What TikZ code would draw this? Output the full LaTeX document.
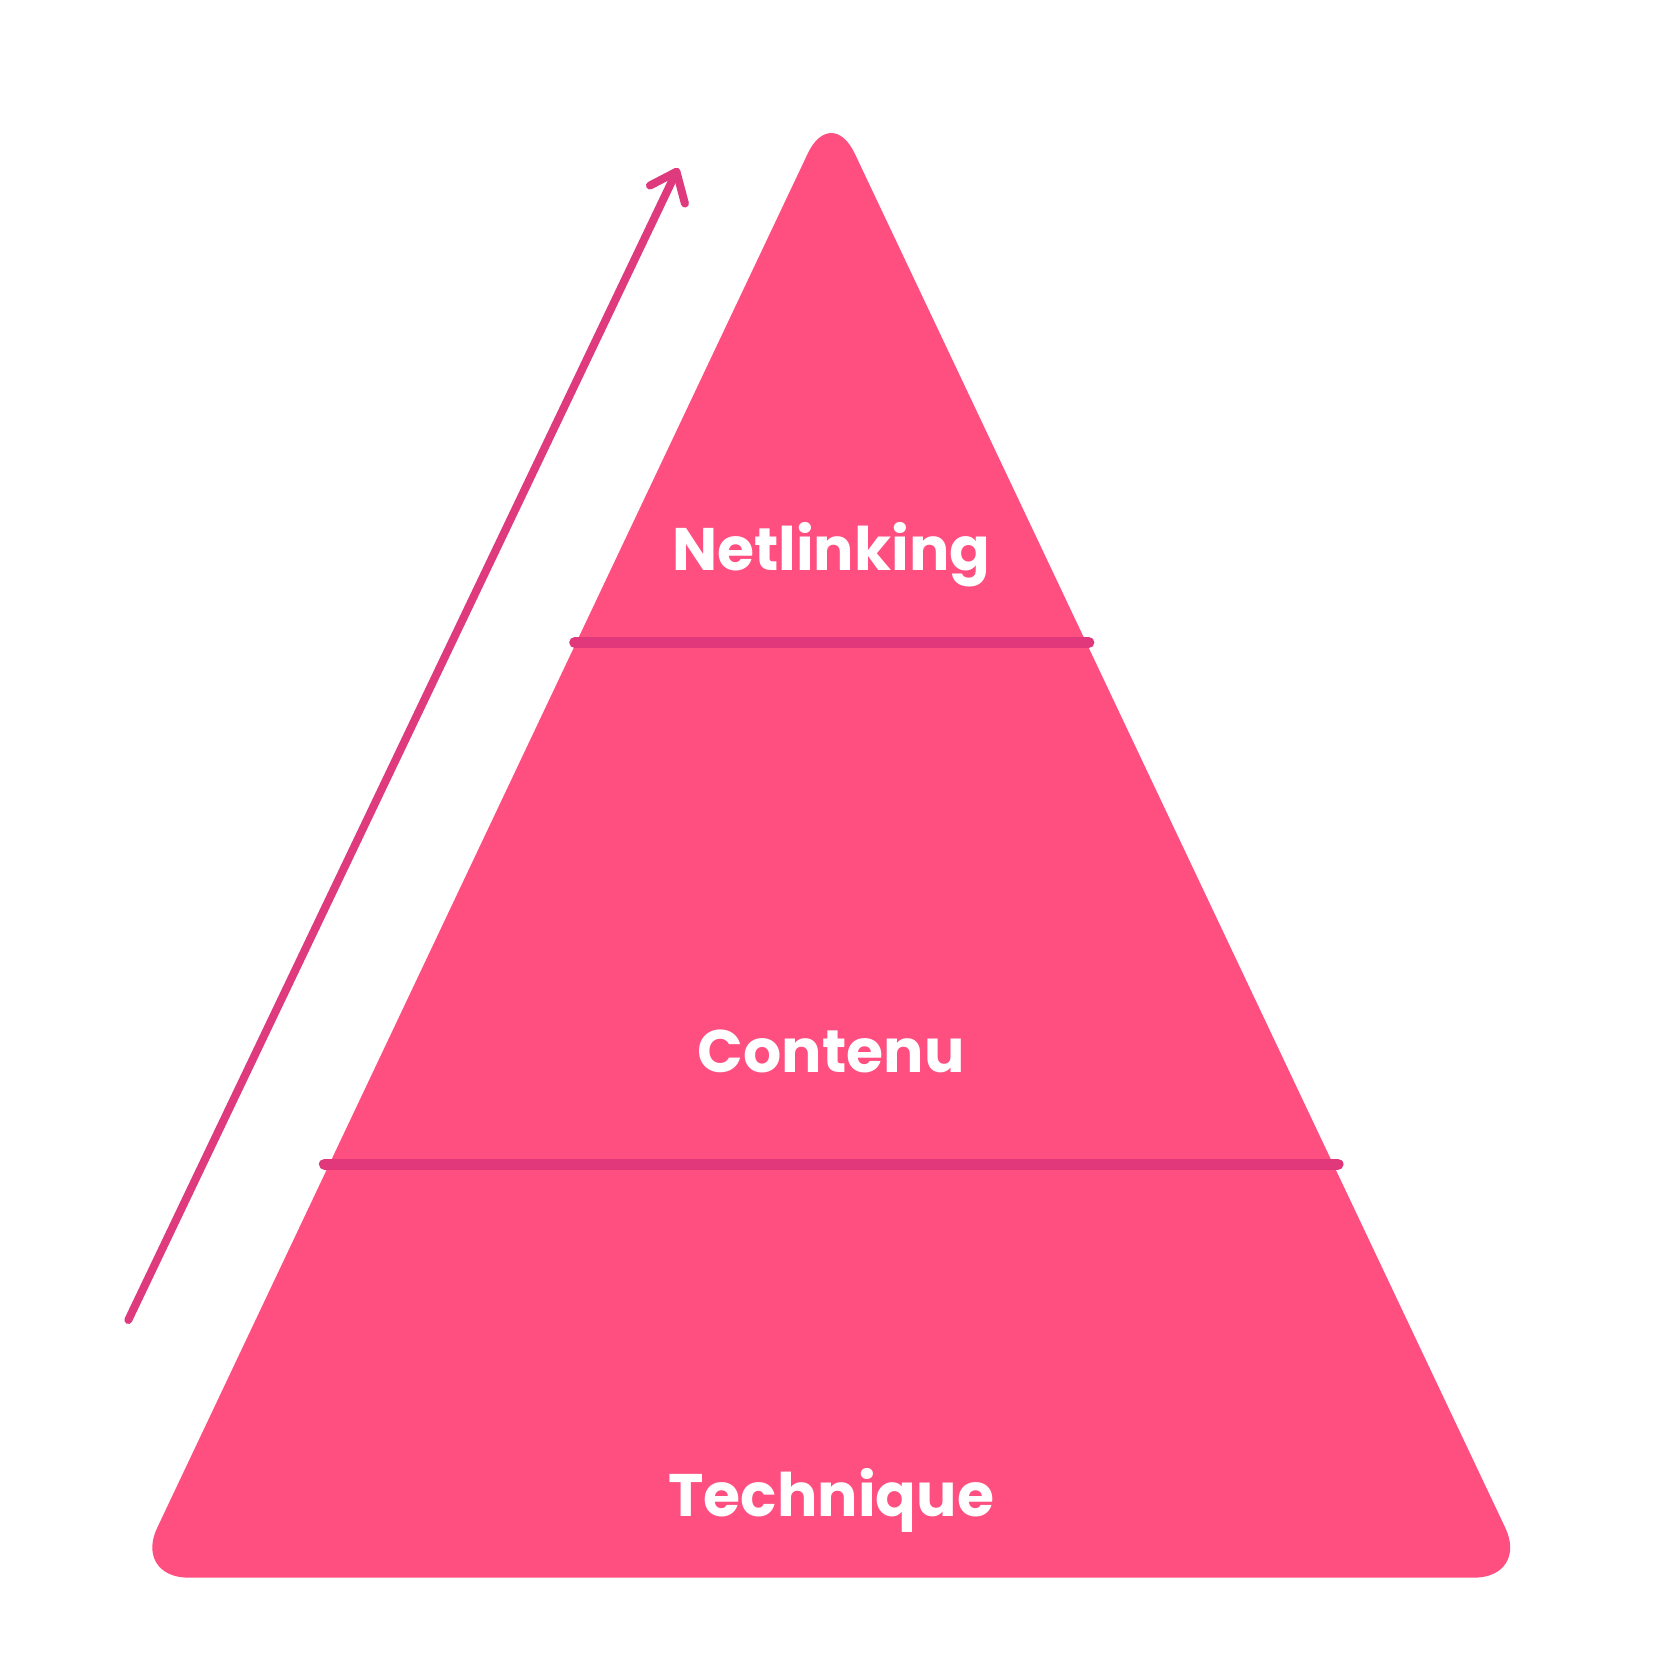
\documentclass[tikz,border=0pt]{standalone}
\usepackage{fontspec}
\setmainfont{Poppins}
\definecolor{pyr}{HTML}{FF4F80}
\definecolor{band}{HTML}{E0387A}
\definecolor{arr}{HTML}{DE3A7D}
\begin{document}
\begin{tikzpicture}[x=1.06pt,y=-1.06pt,
  lbl/.style={text=white,font=\fontsize{60}{66}\selectfont\bfseries,anchor=base}]
\useasboundingbox (0,0) rectangle (1560,1560);
\fill[pyr,rounded corners=55] (784,98) -- (1442,1488) -- (126,1488) -- cycle;
\coordinate (b1l) at (542,606); \coordinate (b1r) at (1027,606);
\coordinate (b2l) at (306,1098); \coordinate (b2r) at (1262,1098);
\draw[band,line width=11,line cap=round] (b1l) -- (b1r);
\draw[band,line width=11,line cap=round] (b2l) -- (b2r);
\node[lbl] (n) at (784,538) {Netlinking};
\node[lbl] (c) at (784,1012) {Contenu};
\node[lbl] (t) at (784,1430) {Technique};
\coordinate (s) at (121,1245); \coordinate (e) at (638,162);
\draw[arr,line width=8,line cap=round,line join=round] (s) -- (e);
\draw[arr,line width=8,line cap=round,line join=round] (613,175) -- (e) -- (646,192);
\end{tikzpicture}
\end{document}
